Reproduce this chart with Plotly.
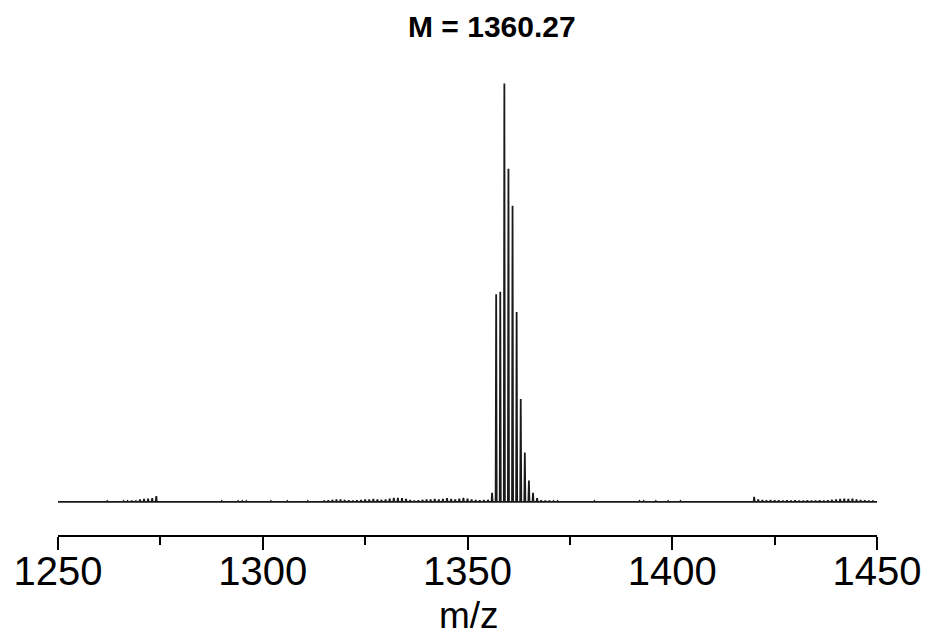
import plotly.graph_objects as go

# Peak list: m/z positions and relative intensities (%)
main_mz = [1357, 1358, 1359, 1360, 1361, 1362, 1363, 1364, 1365, 1366]
main_int = [49.6, 50.2, 100.0, 79.6, 70.8, 45.4, 24.6, 11.8, 5.1, 2.2]

noise_mz = [1262, 1266, 1267, 1268, 1269, 1270, 1271, 1272, 1273, 1274,
            1290, 1294, 1295, 1296, 1302, 1306, 1311,
            1315, 1316, 1317, 1318, 1319, 1320, 1321, 1322, 1323, 1324,
            1325, 1326, 1327, 1328, 1329, 1330, 1331, 1332, 1333, 1334,
            1335, 1336, 1337, 1338, 1339, 1340, 1341, 1342, 1343, 1344,
            1345, 1346, 1347, 1348, 1349, 1350, 1351, 1352, 1353, 1354,
            1355, 1356, 1367, 1368, 1369, 1370, 1371, 1372,
            1381, 1392, 1393, 1396, 1399, 1402,
            1420, 1421, 1422, 1423, 1424, 1425, 1426, 1427, 1428, 1429,
            1430, 1431, 1432, 1433, 1434, 1435, 1436, 1437, 1438, 1439,
            1440, 1441, 1442, 1443, 1444, 1445, 1446, 1447, 1448, 1449]
noise_int = [0.2, 0.2, 0.2, 0.3, 0.3, 0.6, 0.7, 0.8, 0.9, 1.4,
             0.2, 0.2, 0.2, 0.2, 0.2, 0.2, 0.2,
             0.3, 0.4, 0.5, 0.6, 0.6, 0.5, 0.4, 0.3, 0.4, 0.5,
             0.6, 0.6, 0.7, 0.6, 0.5, 0.6, 0.8, 1.0, 1.0, 0.9,
             0.7, 0.5, 0.3, 0.4, 0.5, 0.6, 0.6, 0.7, 0.6, 0.7,
             0.9, 0.7, 0.6, 0.8, 1.0, 0.8, 0.6, 0.5, 0.4, 0.5,
             0.5, 2.2, 0.9, 0.4, 0.3, 0.3, 0.2, 0.2,
             0.2, 0.2, 0.2, 0.2, 0.2, 0.2,
             1.2, 0.6, 0.5, 0.4, 0.5, 0.4, 0.4, 0.3, 0.4, 0.3,
             0.4, 0.3, 0.3, 0.4, 0.3, 0.3, 0.4, 0.3, 0.4, 0.5,
             0.6, 0.7, 0.8, 0.7, 0.8, 0.6, 0.5, 0.4, 0.3, 0.3]

x_range = [1250, 1450]
tick_vals = [1250, 1300, 1350, 1400, 1450]
tick_text = ["1250", "1300", "1350", "1400", "1450"]
x_title = "m/z"
chart_title = "M = 1360.27"

peaks = sorted(zip(main_mz + noise_mz, main_int + noise_int))
half = 0.13
xs, ys = [x_range[0]], [0]
for p, h in peaks:
    xs += [p - half, p, p + half]
    ys += [0, h, 0]
xs.append(x_range[1])
ys.append(0)

FONT = "Liberation Sans, Arial"

fig = go.Figure()
fig.add_trace(go.Scatter(x=xs, y=ys, mode="lines",
                         line=dict(color="#1a1a1a", width=1.8),
                         hoverinfo="skip", showlegend=False))

fig.update_layout(
    width=928, height=637,
    margin=dict(l=58, r=51, t=60, b=102),
    plot_bgcolor="white", paper_bgcolor="white",
    title=dict(text="<b>" + chart_title + "</b>", x=0.53, xanchor="center",
               y=0.958, yanchor="middle", automargin=False,
               font=dict(family=FONT, size=30, color="black")),
    xaxis=dict(range=x_range, tickmode="array", tickvals=tick_vals, ticktext=tick_text,
               automargin=False, ticklabelstandoff=-13,
               showgrid=False, zeroline=False, showline=True, linecolor="black", linewidth=2,
               ticks="outside", ticklen=13, tickwidth=2, tickcolor="black",
               minor=dict(dtick=25, tick0=1250, ticks="outside", ticklen=8, tickwidth=2,
                          tickcolor="black", showgrid=False),
               tickfont=dict(family=FONT, size=40, color="black")),
    yaxis=dict(range=[-7.9, 105.6], visible=False, showgrid=False, zeroline=False,
               automargin=False),
    annotations=[dict(text=x_title, xref="paper", yref="paper", x=0.502, y=-0.2145,
                      xanchor="center", yanchor="bottom", showarrow=False,
                      borderpad=0,
                      font=dict(family=FONT, size=37, color="black"))],
)

fig.write_html("out.html")
